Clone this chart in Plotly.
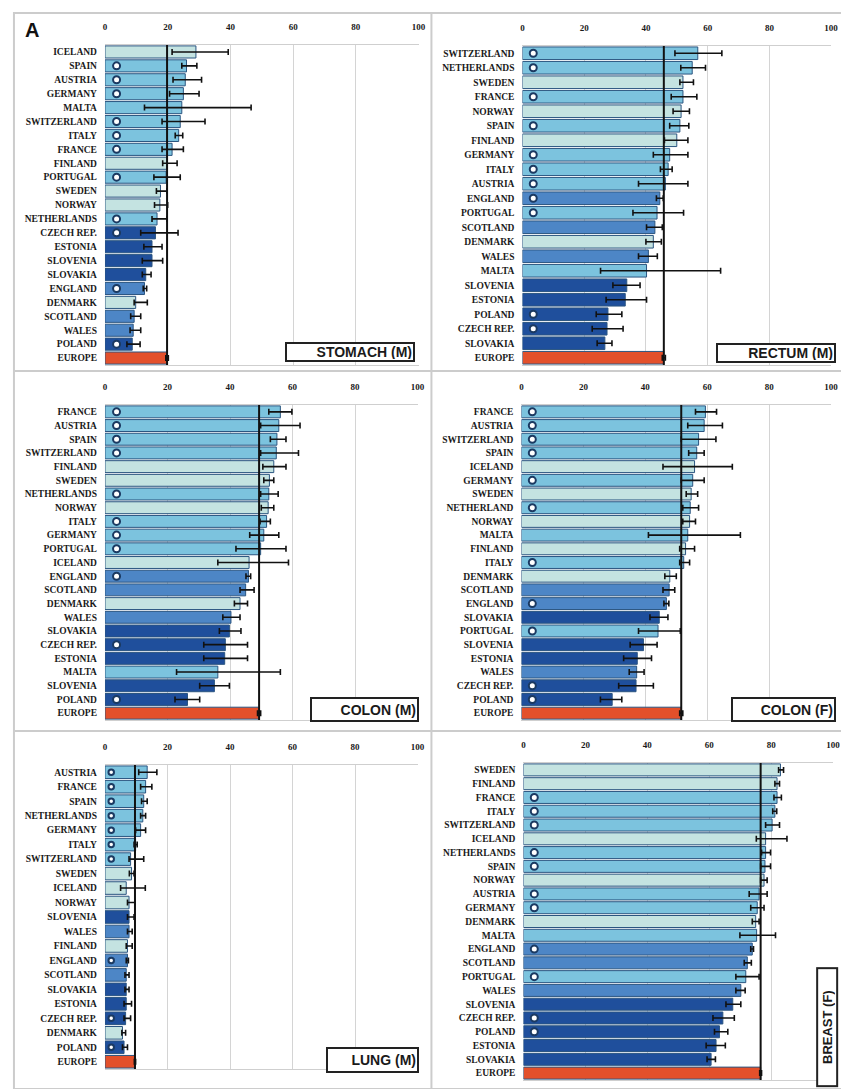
import plotly.graph_objects as go

# page body has an 8px margin; figure is sized to fill the rest of the window
OFF = 8
W, H = 849 - OFF, 1089 - OFF

# ---------------- DATA ----------------
stomach_countries = ["ICELAND", "SPAIN", "AUSTRIA", "GERMANY", "MALTA", "SWITZERLAND", "ITALY", "FRANCE",
                     "FINLAND", "PORTUGAL", "SWEDEN", "NORWAY", "NETHERLANDS", "CZECH REP.", "ESTONIA",
                     "SLOVENIA", "SLOVAKIA", "ENGLAND", "DENMARK", "SCOTLAND", "WALES", "POLAND", "EUROPE"]
stomach_values = [29.0, 26.0, 25.6, 25.0, 24.5, 24.0, 23.5, 21.4, 19.8, 19.5, 17.7, 17.5, 16.6, 16.1, 15.0,
                  15.0, 13.0, 12.6, 9.8, 9.3, 9.0, 8.7, 19.8]
stomach_lo = [21.4, 24.5, 21.7, 20.6, 12.6, 18.2, 22.4, 18.2, 18.4, 15.6, 16.4, 15.8, 15.0, 11.4, 12.4,
              11.9, 11.9, 12.2, 9.3, 8.2, 8.0, 7.0, 19.4]
stomach_hi = [39.3, 29.3, 30.8, 30.0, 46.6, 31.9, 24.8, 25.0, 23.0, 24.0, 19.8, 20.0, 19.8, 23.3, 18.2,
              18.4, 14.7, 13.3, 13.5, 11.4, 11.4, 11.2, 20.2]

rectum_countries = ["SWITZERLAND", "NETHERLANDS", "SWEDEN", "FRANCE", "NORWAY", "SPAIN", "FINLAND", "GERMANY",
                    "ITALY", "AUSTRIA", "ENGLAND", "PORTUGAL", "SCOTLAND", "DENMARK", "WALES", "MALTA",
                    "SLOVENIA", "ESTONIA", "POLAND", "CZECH REP.", "SLOVAKIA", "EUROPE"]
rectum_values = [56.8, 55.0, 52.0, 52.0, 51.4, 51.0, 50.0, 47.7, 47.2, 46.3, 44.5, 43.6, 42.9, 42.4, 40.8,
                 40.2, 33.8, 33.3, 27.7, 27.4, 26.7, 45.8]
rectum_lo = [49.4, 51.3, 51.0, 48.2, 48.8, 47.7, 46.0, 42.4, 44.7, 37.6, 43.4, 35.8, 40.2, 40.0, 37.6,
             25.3, 29.3, 27.1, 23.9, 22.6, 24.2, 45.3]
rectum_hi = [64.6, 59.3, 55.4, 56.5, 54.1, 53.9, 53.6, 53.6, 48.5, 53.6, 45.6, 52.2, 45.3, 45.0, 43.7,
             64.2, 38.1, 40.2, 32.2, 32.6, 29.0, 46.3]

colonm_countries = ["FRANCE", "AUSTRIA", "SPAIN", "SWITZERLAND", "FINLAND", "SWEDEN", "NETHERLANDS", "NORWAY",
                    "ITALY", "GERMANY", "PORTUGAL", "ICELAND", "ENGLAND", "SCOTLAND", "DENMARK", "WALES",
                    "SLOVAKIA", "CZECH REP.", "ESTONIA", "MALTA", "SLOVENIA", "POLAND", "EUROPE"]
colonm_values = [56.1, 55.6, 55.0, 54.8, 54.0, 52.6, 52.4, 52.2, 51.7, 50.8, 49.8, 46.1, 45.9, 45.0, 43.2,
                 40.3, 39.8, 38.5, 38.3, 36.1, 35.0, 26.4, 49.3]
colonm_lo = [52.4, 49.8, 52.9, 49.8, 50.5, 50.8, 49.8, 50.0, 49.6, 46.3, 41.9, 36.1, 45.1, 43.2, 41.4,
             37.7, 36.6, 31.6, 31.6, 22.9, 30.3, 22.4, 48.8]
colonm_hi = [59.8, 62.4, 57.9, 61.9, 57.9, 54.0, 55.4, 54.0, 52.9, 55.6, 57.9, 58.7, 46.6, 47.7, 45.6,
             43.2, 43.5, 45.6, 45.6, 56.1, 39.8, 30.3, 49.8]

colonf_countries = ["FRANCE", "AUSTRIA", "SWITZERLAND", "SPAIN", "ICELAND", "GERMANY", "SWEDEN", "NETHERLAND",
                    "NORWAY", "MALTA", "FINLAND", "ITALY", "DENMARK", "SCOTLAND", "ENGLAND", "SLOVAKIA",
                    "PORTUGAL", "SLOVENIA", "ESTONIA", "WALES", "CZECH REP.", "POLAND", "EUROPE"]
colonf_values = [59.4, 59.0, 57.2, 56.6, 55.9, 55.3, 54.8, 54.5, 54.3, 53.7, 53.0, 52.4, 47.9, 47.7, 46.8,
                 44.5, 44.1, 39.4, 37.4, 37.2, 37.0, 29.3, 51.6]
colonf_lo = [56.2, 53.7, 51.6, 54.0, 45.7, 51.6, 53.2, 52.1, 52.1, 41.0, 51.1, 51.1, 46.3, 45.7, 46.0,
             41.5, 37.8, 35.1, 33.0, 34.8, 31.4, 25.5, 51.1]
colonf_hi = [63.0, 64.9, 62.8, 59.0, 68.1, 59.0, 56.9, 57.2, 56.2, 70.7, 55.9, 54.3, 50.0, 49.5, 47.6,
             47.3, 51.3, 43.8, 42.0, 39.6, 42.6, 32.4, 52.1]

lung_countries = ["AUSTRIA", "FRANCE", "SPAIN", "NETHERLANDS", "GERMANY", "ITALY", "SWITZERLAND", "SWEDEN",
                  "ICELAND", "NORWAY", "SLOVENIA", "WALES", "FINLAND", "ENGLAND", "SCOTLAND", "SLOVAKIA",
                  "ESTONIA", "CZECH REP.", "DENMARK", "POLAND", "EUROPE"]
lung_values = [13.5, 13.0, 12.4, 12.1, 11.4, 9.8, 8.2, 8.5, 6.8, 7.7, 7.7, 7.7, 7.2, 7.2, 6.8, 6.8, 6.8,
               6.6, 5.6, 6.1, 9.6]
lung_lo = [10.8, 11.4, 11.7, 11.4, 9.8, 9.3, 7.7, 7.8, 5.0, 7.2, 7.2, 7.2, 6.8, 6.8, 6.4, 6.4, 6.1, 6.1,
           5.4, 5.6, 9.4]
lung_hi = [16.6, 15.0, 13.5, 13.0, 13.0, 10.3, 12.4, 9.3, 12.9, 9.6, 9.3, 8.7, 8.7, 7.5, 7.7, 7.7, 8.5,
           8.2, 6.6, 7.2, 9.8]

breast_countries = ["SWEDEN", "FINLAND", "FRANCE", "ITALY", "SWITZERLAND", "ICELAND", "NETHERLANDS", "SPAIN",
                    "NORWAY", "AUSTRIA", "GERMANY", "DENMARK", "MALTA", "ENGLAND", "SCOTLAND", "PORTUGAL",
                    "WALES", "SLOVENIA", "CZECH REP.", "POLAND", "ESTONIA", "SLOVAKIA", "EUROPE"]
breast_values = [83.0, 81.9, 81.9, 81.2, 80.3, 78.2, 78.2, 78.0, 77.7, 76.1, 75.5, 75.0, 75.3, 73.9, 72.3,
                 71.8, 70.2, 67.6, 64.4, 63.3, 62.2, 60.6, 76.6]
breast_lo = [82.4, 81.2, 80.9, 80.5, 78.2, 75.2, 76.9, 76.6, 76.6, 72.9, 73.4, 73.9, 69.9, 73.4, 71.3,
             68.6, 68.6, 65.4, 61.2, 61.7, 59.0, 59.3, 76.3]
breast_hi = [84.0, 82.7, 83.3, 81.8, 82.7, 85.1, 79.8, 79.8, 78.7, 78.7, 77.7, 76.1, 81.4, 74.3, 73.6,
             76.1, 71.6, 70.2, 68.1, 66.0, 65.2, 62.0, 76.9]

panel_titles = ["STOMACH (M)", "RECTUM (M)", "COLON (M)", "COLON (F)", "LUNG (M)", "BREAST (F)"]
x_ticks = [0, 20, 40, 60, 80, 100]

# countries with regional (partial-coverage) registries: marked with a circle
regional = {"SPAIN", "AUSTRIA", "GERMANY", "SWITZERLAND", "ITALY", "FRANCE", "PORTUGAL", "NETHERLANDS",
            "NETHERLAND", "CZECH REP.", "ENGLAND", "POLAND"}
nordic = {"ICELAND", "SWEDEN", "NORWAY", "FINLAND", "DENMARK"}
uk = {"ENGLAND", "SCOTLAND", "WALES"}
eastern = {"CZECH REP.", "ESTONIA", "SLOVENIA", "SLOVAKIA", "POLAND"}

COL_NORDIC = "#c4e3e1"
COL_WEST = "#7cc3de"
COL_UK = "#4d86c6"
COL_EAST = "#1f4f9c"
COL_EUROPE = "#e3502b"


def bar_color(c):
    if c == "EUROPE":
        return COL_EUROPE
    if c in nordic:
        return COL_NORDIC
    if c in uk:
        return COL_UK
    if c in eastern:
        return COL_EAST
    return COL_WEST


def px_x(p):
    return (p - OFF) / W


def px_y(p):
    return 1 - (p - OFF) / H


panels = [
    dict(c=stomach_countries, v=stomach_values, lo=stomach_lo, hi=stomach_hi, xd=(104, 421), yd=(45, 365),
         box=(287, 342, 417, 362), mk=3.7),
    dict(c=rectum_countries, v=rectum_values, lo=rectum_lo, hi=rectum_hi, xd=(526, 838), yd=(46, 365),
         box=(722, 343, 842, 363), mk=3.5),
    dict(c=colonm_countries, v=colonm_values, lo=colonm_lo, hi=colonm_hi, xd=(104, 420), yd=(405, 720),
         box=(312, 697, 421, 722), mk=3.7),
    dict(c=colonf_countries, v=colonf_values, lo=colonf_lo, hi=colonf_hi, xd=(525, 838), yd=(405, 720),
         box=(737, 697, 842, 722), mk=3.5),
    dict(c=lung_countries, v=lung_values, lo=lung_lo, hi=lung_hi, xd=(104, 420), yd=(765, 1069),
         box=(328, 1047, 421, 1073), mk=2.0),
    dict(c=breast_countries, v=breast_values, lo=breast_lo, hi=breast_hi, xd=(527, 840), yd=(763, 1080),
         box=(823, 967, 845, 1087), mk=3.5),
]

fig = go.Figure()
layout = dict(width=W, height=H, margin=dict(l=0, r=0, t=0, b=0), paper_bgcolor="white",
              plot_bgcolor="white", showlegend=False, bargap=0.13)
shapes = []
annotations = []

ytickfont = dict(family="Liberation Serif", size=9.5, color="#1a1a1a", weight="bold")
xtickfont = dict(family="Liberation Serif", size=9, color="#1a1a1a", weight="bold")

for i, p in enumerate(panels, start=1):
    xa = "x" if i == 1 else f"x{i}"
    ya = "y" if i == 1 else f"y{i}"
    n = len(p["c"])
    colors = [bar_color(c) for c in p["c"]]
    err_plus = [h - v for h, v in zip(p["hi"], p["v"])]
    err_minus = [v - l for v, l in zip(p["v"], p["lo"])]
    fig.add_trace(go.Bar(
        x=p["v"], y=p["c"], orientation="h", xaxis=xa, yaxis=ya,
        marker=dict(color=colors, line=dict(color="#2b5580", width=1)),
        error_x=dict(type="data", symmetric=False, array=err_plus, arrayminus=err_minus,
                     color="#111111", thickness=1.6, width=3),
        hoverinfo="x+y"))
    mk_c = [c for c in p["c"] if c in regional]
    fig.add_trace(go.Scatter(
        x=[p["mk"]] * len(mk_c), y=mk_c, mode="markers", xaxis=xa, yaxis=ya,
        marker=dict(symbol="circle", size=7 if i != 5 else 5.5, color="white",
                    line=dict(color="#1b3a62", width=2)),
        hoverinfo="skip"))
    europe_val = p["v"][p["c"].index("EUROPE")]
    shapes.append(dict(type="line", xref=xa, yref=ya, x0=europe_val, x1=europe_val,
                       y0=-0.5, y1=n - 0.5, line=dict(color="#111111", width=2), layer="above"))

    xkey = "xaxis" if i == 1 else f"xaxis{i}"
    ykey = "yaxis" if i == 1 else f"yaxis{i}"
    layout[xkey] = dict(domain=[px_x(p["xd"][0]), px_x(p["xd"][1])], range=[0, 100], anchor=ya,
                        side="top", tickvals=x_ticks, ticktext=[str(t) for t in x_ticks],
                        showgrid=True, gridcolor="#d4d4d4", gridwidth=1, zeroline=False,
                        showline=True, mirror=True, linecolor="#cfcfcf", linewidth=1,
                        ticks="", tickfont=xtickfont, ticklabelstandoff=10, fixedrange=True)
    layout[ykey] = dict(domain=[px_y(p["yd"][1]), px_y(p["yd"][0])], anchor=xa, type="category",
                        categoryorder="array", categoryarray=p["c"], range=[n - 0.5, -0.5],
                        showgrid=False, zeroline=False, showline=False, ticks="",
                        tickfont=ytickfont, ticklabelstandoff=7, fixedrange=True)

    bx0, by0, bx1, by1 = p["box"]
    if i == 6:
        annotations.append(dict(x=px_x((bx0 + bx1) / 2), y=px_y((by0 + by1) / 2), xref="paper", yref="paper",
                                text="<b>" + panel_titles[i - 1] + "</b>", showarrow=False, textangle=-90,
                                font=dict(family="Liberation Sans", size=13, color="#1a1a1a"),
                                bgcolor="white", bordercolor="#222222", borderwidth=2,
                                width=by1 - by0 - 6, height=bx1 - bx0 - 6,
                                xanchor="center", yanchor="middle"))
    else:
        annotations.append(dict(x=px_x((bx0 + bx1) / 2), y=px_y((by0 + by1) / 2), xref="paper", yref="paper",
                                text="<b>" + panel_titles[i - 1] + "</b>", showarrow=False,
                                font=dict(family="Liberation Sans", size=14, color="#1a1a1a"),
                                bgcolor="white", bordercolor="#222222", borderwidth=2,
                                width=bx1 - bx0 - 6, height=by1 - by0 - 6,
                                xanchor="center", yanchor="middle", align="right"))

# panel frames
frame = dict(color="#cccccc", width=2)
shapes.append(dict(type="rect", xref="paper", yref="paper", x0=px_x(12), x1=px_x(849), y0=px_y(1089),
                   y1=px_y(13), line=frame, layer="below"))
shapes.append(dict(type="line", xref="paper", yref="paper", x0=px_x(434), x1=px_x(434), y0=px_y(1089),
                   y1=px_y(13), line=frame, layer="below"))
for yy in (371, 731):
    shapes.append(dict(type="line", xref="paper", yref="paper", x0=px_x(12), x1=px_x(849), y0=px_y(yy),
                       y1=px_y(yy), line=frame, layer="below"))

annotations.append(dict(x=px_x(30), y=px_y(30), xref="paper", yref="paper", text="<b>A</b>",
                        showarrow=False, font=dict(family="Liberation Sans", size=20, color="#111111"),
                        xanchor="center", yanchor="middle"))

layout["shapes"] = shapes
layout["annotations"] = annotations
fig.update_layout(**layout)
fig.write_html("out.html")
